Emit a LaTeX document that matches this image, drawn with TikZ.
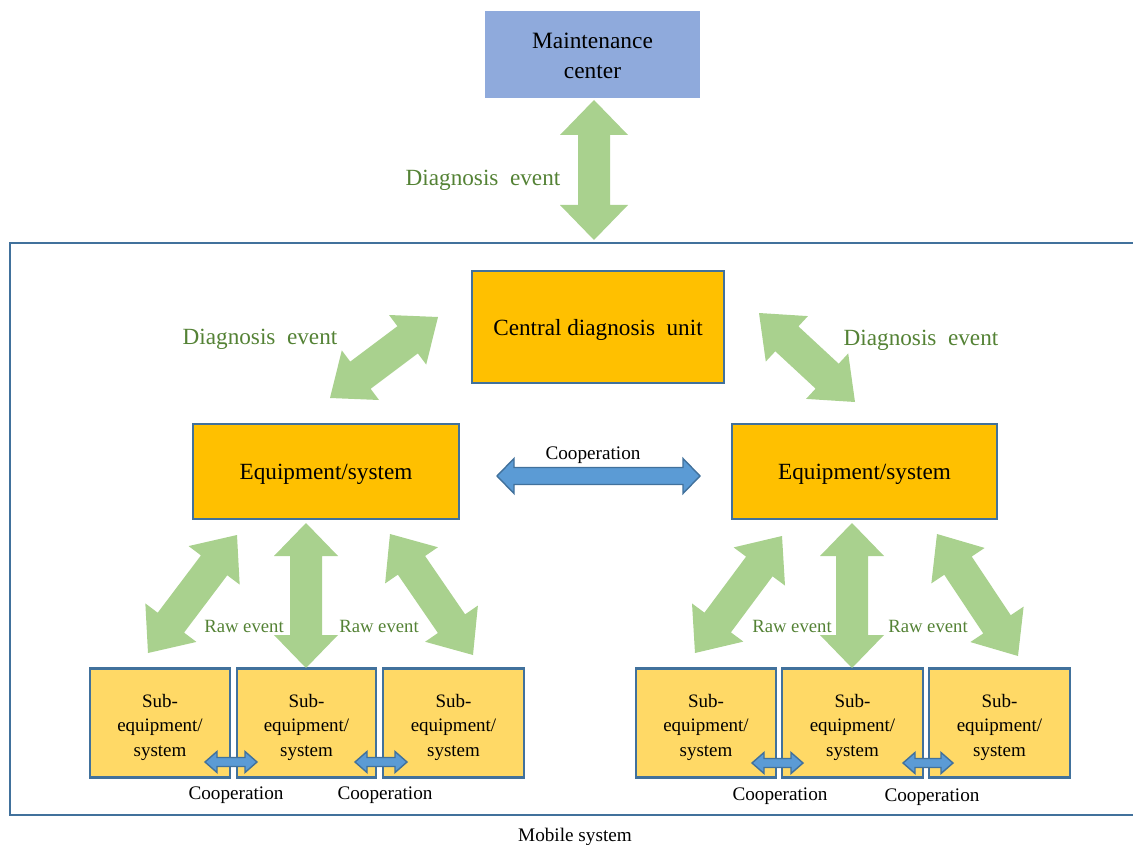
\documentclass[tikz,border=0pt]{standalone}
\usepackage{fontspec}
\setmainfont{Liberation Serif}
\usetikzlibrary{calc}
\definecolor{cMC}{HTML}{8FAADC}
\definecolor{cBord}{HTML}{41719C}
\definecolor{cOr}{HTML}{FFC000}
\definecolor{cLOr}{HTML}{FFD966}
\definecolor{cGr}{HTML}{A9D18E}
\definecolor{cGrTxt}{HTML}{548235}
\definecolor{cBl}{HTML}{5B9BD5}
% #1 style, #2 start, #3 end, #4 shaft half width, #5 head half width, #6 head length
\newcommand\blockarrow[6]{%
  \coordinate (ba1) at ($(#2)!#6!(#3)$);
  \coordinate (ba2) at ($(#3)!#6!(#2)$);
  \path[#1] (#2) -- ($(ba1)!#5!90:(#3)$) -- ($(ba1)!#4!90:(#3)$)
    -- ($(ba2)!#4!-90:(#2)$) -- ($(ba2)!#5!-90:(#2)$) -- (#3)
    -- ($(ba2)!#5!90:(#2)$) -- ($(ba2)!#4!90:(#2)$)
    -- ($(ba1)!#4!-90:(#3)$) -- ($(ba1)!#5!-90:(#3)$) -- cycle;}
\tikzset{
  mcbox/.style={fill=cMC, minimum width=215pt, minimum height=87pt},
  mctxt/.style={align=center, font=\fontsize{23.4}{30}\selectfont},
  bigbox/.style={fill=cOr, draw=cBord, line width=2.6pt, text depth=0pt,
    font=\fontsize{23.2}{26}\selectfont},
  subbox/.style={fill=cLOr, draw=cBord, line width=2.6pt, minimum height=109pt},
  subtxt/.style={align=center, font=\fontsize{19}{24.5}\selectfont},
  greenarrow/.style={fill=cGr},
  bluearrow/.style={fill=cBl, draw=cBord, line width=1.4pt, line join=miter},
  gtxt/.style={text=cGrTxt, font=\fontsize{23.2}{26}\selectfont},
  rtxt/.style={text=cGrTxt, font=\fontsize{18.7}{20}\selectfont},
  ctxt/.style={font=\fontsize{19.2}{20}\selectfont},
  frame/.style={draw=cBord, line width=2.8pt}
}
\begin{document}
\begin{tikzpicture}[x=1pt,y=-1pt]
\useasboundingbox (0,0) rectangle (1133,845);
% frame
\draw[frame] (10,243) rectangle (1150,815);
\node[ctxt] (mob) at (575,837) {Mobile system};
% boxes
\node[mcbox] (mc) at (592.5,54.5) {};
\node[mctxt] (mct) at (592.5,56) {Maintenance\\center};
\node[bigbox, minimum width=252pt, minimum height=112pt] (cdu) at (598,327) {Central diagnosis\ \ unit};
\node[bigbox, minimum width=266pt, minimum height=95pt] (eqL) at (326,471.5) {Equipment/system};
\node[bigbox, minimum width=265pt, minimum height=95pt] (eqR) at (864.5,471.5) {Equipment/system};
\node[subbox, minimum width=140pt] (sL1) at (160,723) {};
\node[subbox, minimum width=139pt] (sL2) at (306.5,723) {};
\node[subbox, minimum width=141pt] (sL3) at (453.5,723) {};
\node[subbox, minimum width=140pt] (sR1) at (706,723) {};
\node[subbox, minimum width=141pt] (sR2) at (852.5,723) {};
\node[subbox, minimum width=141pt] (sR3) at (999.5,723) {};
\foreach \b in {sL1,sL2,sL3,sR1,sR2,sR3}
  \node[subtxt] (\b t) at ($(\b)+(0,4)$) {Sub-\\equipment/\\system};
% arrow end points
\coordinate (mcA) at (594,100); \coordinate (mcB) at (594,240);
\coordinate (dLA) at (330,398); \coordinate (dLB) at (438,317);
\coordinate (dRA) at (759,313); \coordinate (dRB) at (855,402);
\coordinate (rL1A) at (148,653); \coordinate (rL1B) at (237,535);
\coordinate (rL2A) at (306,523); \coordinate (rL2B) at (306,668);
\coordinate (rL3A) at (390,534); \coordinate (rL3B) at (473,655);
\coordinate (rR1A) at (695,653); \coordinate (rR1B) at (782,536);
\coordinate (rR2A) at (852,523); \coordinate (rR2B) at (852,668);
\coordinate (rR3A) at (937,534); \coordinate (rR3B) at (1018,656);
\coordinate (coA) at (497,476); \coordinate (coB) at (700,476);
\coordinate (cL1A) at (205,762); \coordinate (cL1B) at (257,762);
\coordinate (cL2A) at (355,762); \coordinate (cL2B) at (407,762);
\coordinate (cR1A) at (752,763); \coordinate (cR1B) at (803,763);
\coordinate (cR2A) at (903,763); \coordinate (cR2B) at (953,763);
% green arrows
\blockarrow{greenarrow}{mcA}{mcB}{16pt}{34pt}{35pt}
\blockarrow{greenarrow}{dLA}{dLB}{17pt}{31pt}{38pt}
\blockarrow{greenarrow}{dRA}{dRB}{17pt}{31pt}{38pt}
\blockarrow{greenarrow}{rL1A}{rL1B}{16.5pt}{32pt}{38pt}
\blockarrow{greenarrow}{rL2A}{rL2B}{16pt}{32pt}{33pt}
\blockarrow{greenarrow}{rL3A}{rL3B}{16.5pt}{32pt}{38pt}
\blockarrow{greenarrow}{rR1A}{rR1B}{16.5pt}{32pt}{38pt}
\blockarrow{greenarrow}{rR2A}{rR2B}{16pt}{32pt}{33pt}
\blockarrow{greenarrow}{rR3A}{rR3B}{16.5pt}{32pt}{38pt}
% blue arrows
\blockarrow{bluearrow}{coA}{coB}{8.5pt}{17.5pt}{17pt}
\blockarrow{bluearrow}{cL1A}{cL1B}{4.5pt}{10.5pt}{12pt}
\blockarrow{bluearrow}{cL2A}{cL2B}{4.5pt}{10.5pt}{12pt}
\blockarrow{bluearrow}{cR1A}{cR1B}{4.5pt}{10.5pt}{12pt}
\blockarrow{bluearrow}{cR2A}{cR2B}{4.5pt}{10.5pt}{12pt}
% labels
\node[gtxt] (lt) at (483,180) {Diagnosis\ \ event};
\node[gtxt] (ll) at (260,339) {Diagnosis\ \ event};
\node[gtxt] (lr) at (921,340) {Diagnosis\ \ event};
\node[ctxt] (lco) at (593,455) {Cooperation};
\node[rtxt] (r1) at (244,626) {Raw event};
\node[rtxt] (r2) at (379,626) {Raw event};
\node[rtxt] (r3) at (792,626) {Raw event};
\node[rtxt] (r4) at (928,626) {Raw event};
\node[ctxt] (c1) at (236,795) {Cooperation};
\node[ctxt] (c2) at (385,795) {Cooperation};
\node[ctxt] (c3) at (780,796) {Cooperation};
\node[ctxt] (c4) at (932,797) {Cooperation};
\end{tikzpicture}
\end{document}
